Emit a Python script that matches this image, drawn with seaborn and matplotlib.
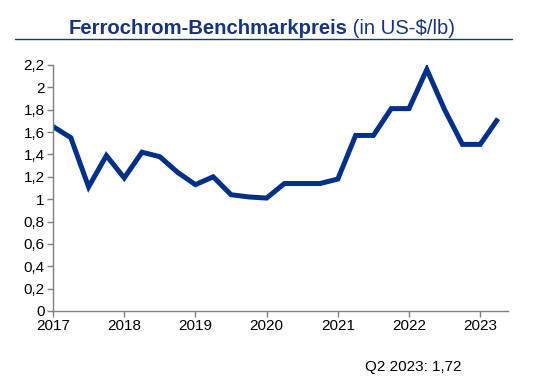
import matplotlib
matplotlib.use("Agg")
import matplotlib.pyplot as plt
import seaborn as sns
import pandas as pd

# Data: quarterly benchmark price, Q1 2017 .. Q2 2023
years = [2017]*4 + [2018]*4 + [2019]*4 + [2020]*4 + [2021]*4 + [2022]*4 + [2023]*2
quarters = [1, 2, 3, 4]*6 + [1, 2]
prices = [1.65, 1.55, 1.11, 1.39,
          1.19, 1.42, 1.38, 1.24,
          1.13, 1.20, 1.04, 1.02,
          1.01, 1.14, 1.14, 1.14,
          1.18, 1.57, 1.57, 1.81,
          1.81, 2.16, 1.80, 1.49,
          1.49, 1.72]
year_ticks = [2017, 2018, 2019, 2020, 2021, 2022, 2023]
y_ticks = [0, 0.2, 0.4, 0.6, 0.8, 1.0, 1.2, 1.4, 1.6, 1.8, 2.0, 2.2]
y_labels = ["0", "0,2", "0,4", "0,6", "0,8", "1", "1,2", "1,4", "1,6", "1,8", "2", "2,2"]

df = pd.DataFrame({"year": years, "quarter": quarters, "price": prices})
df["t"] = df["year"] + (df["quarter"] - 1) / 4.0

sns.set_theme(style="white")
plt.rcParams["font.family"] = ["Liberation Sans", "DejaVu Sans"]

W, H = 542, 384
fig = plt.figure(figsize=(W / 100, H / 100), dpi=100)
ax = fig.add_axes([53 / W, 1 - 311 / H, (508 - 53) / W, (311 - 65) / H])

navy = "#003087"
sns.lineplot(data=df, x="t", y="price", ax=ax, color=navy, linewidth=3.6,
             solid_joinstyle="miter", solid_capstyle="butt")

ax.set_xlim(2017, 2023.39)
ax.set_ylim(0, 2.2)
ax.set_xticks(year_ticks)
ax.set_xticklabels([str(y) for y in year_ticks])
ax.set_yticks(y_ticks)
ax.set_yticklabels(y_labels)
ax.set_xlabel("")
ax.set_ylabel("")
for s in ["top", "right"]:
    ax.spines[s].set_visible(False)
for s in ["left", "bottom"]:
    ax.spines[s].set_color("#808080")
    ax.spines[s].set_linewidth(1.0)
ax.tick_params(axis="both", which="both", direction="out", length=4, width=1,
               color="#808080", labelsize=11, labelcolor="#000000", pad=2,
               bottom=True, left=True)
ax.grid(False)

# Title: bold part + regular part
title_y = 1 - 28 / H
fig.canvas.draw()
r = fig.canvas.get_renderer()
t1 = fig.text(0, title_y, "Ferrochrom-Benchmarkpreis", fontsize=14.6, fontweight="bold",
              color="#17357a", va="center", ha="left")
t2 = fig.text(0, title_y, " (in US-$/lb)", fontsize=14.6, color="#17357a",
              va="center", ha="left")
w1 = t1.get_window_extent(r).width
w2 = t2.get_window_extent(r).width
x0 = 262 - (w1 + w2) / 2
t1.set_x(x0 / W)
t2.set_x((x0 + w1) / W)

# underline
fig.add_artist(plt.Line2D([15 / W, 512 / W], [1 - 39 / H, 1 - 39 / H],
                          transform=fig.transFigure, color="#17357a", linewidth=1.0))

fig.text(413 / W, 1 - 367 / H, "Q2 2023: 1,72", fontsize=11, color="#000000",
         ha="center", va="center")

fig.savefig("out.png", dpi=100)
